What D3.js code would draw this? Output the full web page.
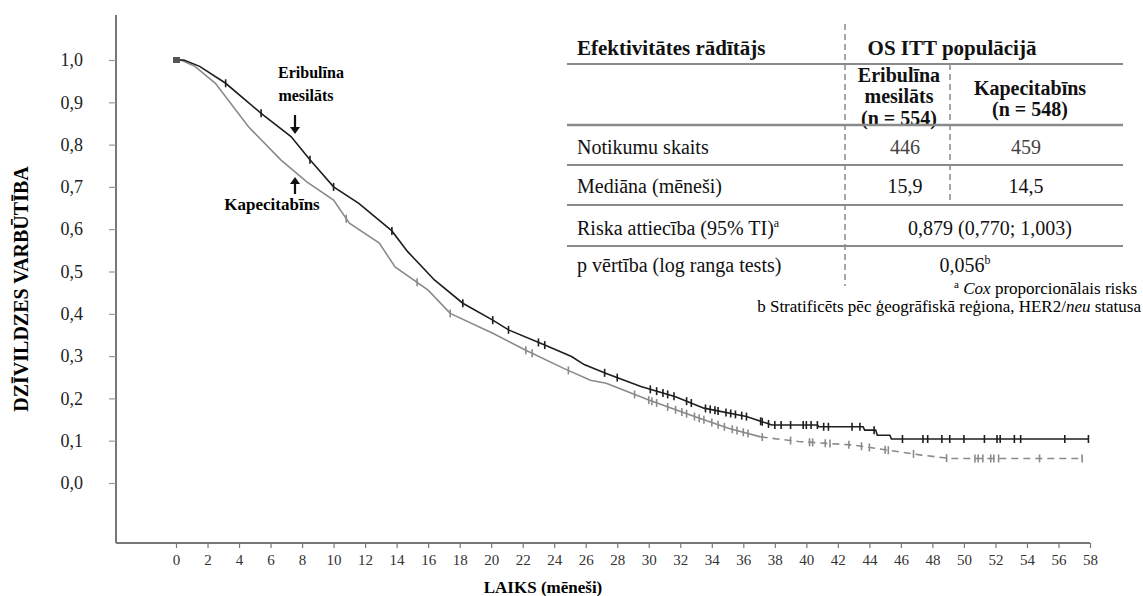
<!DOCTYPE html>
<html>
<head>
<meta charset="utf-8">
<script src="https://cdnjs.cloudflare.com/ajax/libs/d3/7.8.5/d3.min.js"></script>
<style>
body{margin:0;background:#fff;}
svg{display:block;}
svg text{font-family:"Liberation Serif","Times New Roman",Times,serif;}
</style>
</head>
<body>
<div id="chart"></div>
<script>
// tick values
var xTickValues = [0,2,4,6,8,10,12,14,16,18,20,22,24,26,28,30,32,34,36,38,40,42,44,46,48,50,52,54,56,58];
var yTickValues = [0,0.1,0.2,0.3,0.4,0.5,0.6,0.7,0.8,0.9,1.0];

// KM curves [month, survival]
var eribulinCurve = [[0,1.0],[0.5,1.0],[1.5,0.985],[3.15,0.945],[5.4,0.874],[7.3,0.819],[8.5,0.764],[10.0,0.70],[11.6,0.661],[13.7,0.596],[14.7,0.547],[16.4,0.48],[18.2,0.425],[20.1,0.385],[21.1,0.362],[23.4,0.326],[25.1,0.299],[25.9,0.28],[27.3,0.259],[29.5,0.228],[31.7,0.204],[33.5,0.177],[36.2,0.157],[37.5,0.141],[37.8,0.137],[40.7,0.137],[40.8,0.133],[43.6,0.133],[43.7,0.125],[44.4,0.125],[44.5,0.113],[45.3,0.113],[45.4,0.104],[57.9,0.104]];
var capecitabineCurve = [[0,1.0],[0.3,1.0],[1.2,0.985],[2.5,0.945],[4.6,0.842],[6.65,0.764],[8.3,0.712],[10.0,0.669],[11.0,0.614],[12.9,0.567],[13.9,0.511],[16.0,0.456],[17.4,0.401],[20.1,0.354],[22.2,0.314],[24.6,0.271],[26.3,0.243],[27.3,0.236],[30.0,0.196],[32.9,0.157],[35.1,0.129],[37.1,0.109],[39.5,0.098],[42.9,0.09],[45.1,0.078],[47.3,0.066],[49.1,0.058],[57.5,0.058]];
var dashStart = 37.1;

// censored observations (months)
var eribulinCensor = [3.15,5.4,8.5,10.0,13.7,18.2,20.1,21.1,23.0,23.4,27.2,28.0,30.1,30.5,30.9,31.2,31.6,32.4,32.7,33.6,33.9,34.2,34.4,34.9,35.2,35.5,35.9,36.2,37.1,37.2,37.6,38.0,38.4,39.0,39.8,40.0,40.3,40.7,41.1,41.4,42.9,43.4,44.3,46.1,47.4,47.7,48.6,49.1,50.0,51.3,52.1,52.3,53.2,53.6,56.4,57.9];
var capecitabineCensor = [10.8,15.3,17.4,22.2,22.6,24.9,29.1,30.0,30.2,30.5,31.2,31.7,32.1,32.4,32.9,33.2,33.5,34.0,34.4,34.8,35.3,35.6,36.0,36.3,37.2,39.0,40.2,40.4,41.2,41.5,42.7,43.5,44.0,45.0,45.2,46.8,48.9,50.7,50.9,51.2,51.7,51.9,52.2,54.8,57.5];

// table texts
var tableHeader = ["Efektivitātes rādītājs","OS ITT populācijā"];
var armNames = [["Eribulīna","mesilāts","(n = 554)"],["Kapecitabīns","(n = 548)"]];
var rowLabels = ["Notikumu skaits","Mediāna (mēneši)","Riska attiecība (95% TI)","p vērtība (log ranga tests)"];
var eventsCount = ["446","459"];
var medianMonths = ["15,9","14,5"];
var hazardRatio = "0,879 (0,770; 1,003)";
var pValue = "0,056";

var width = 1143, height = 596;
var svg = d3.select("#chart").append("svg")
  .attr("width",width)
  .attr("height",height);

var x = d3.scaleLinear().domain([0,58]).range([176,1090]);
var y = d3.scaleLinear().domain([0,1]).range([483,60]);
var axisColor = "#777";
var serif = "Liberation Serif, Times New Roman, Times, serif";

function valueAt(curve,t){
  for(var i=1;i<curve.length;i++){
    if(t<=curve[i][0]){
      var a = curve[i-1], b = curve[i];
      if(b[0]==a[0]) return b[1];
      return a[1]+(b[1]-a[1])*(t-a[0])/(b[0]-a[0]);
    }
  }
  return curve[curve.length-1][1];
}

// axes
svg.append("line").attr("x1",116).attr("x2",116).attr("y1",15).attr("y2",543)
  .attr("stroke",axisColor).attr("stroke-width",2);
svg.append("line").attr("x1",116).attr("x2",x(58)).attr("y1",543).attr("y2",543)
  .attr("stroke",axisColor).attr("stroke-width",2);

var yAxis = svg.append("g").attr("transform","translate(116,0)")
  .call(d3.axisLeft(y).tickValues(yTickValues).tickSize(7).tickPadding(26)
    .tickFormat(function(d){return d3.format(".1f")(d).replace(".",",");}));
yAxis.select(".domain").remove();
yAxis.attr("font-family",serif);
yAxis.selectAll("line").attr("stroke","#999").attr("stroke-width",1.2);
yAxis.selectAll("text").attr("font-size",18).attr("fill","#222");

var xAxis = svg.append("g").attr("transform","translate(0,543)")
  .call(d3.axisBottom(x).tickValues(xTickValues).tickSize(5).tickPadding(6));
xAxis.select(".domain").remove();
xAxis.attr("font-family",serif);
xAxis.selectAll("line").attr("stroke",axisColor).attr("stroke-width",1.2);
xAxis.selectAll("text").attr("font-size",15).attr("fill","#333");

svg.append("text")
  .attr("transform","translate(28,289) rotate(-90)")
  .attr("text-anchor","middle")
  .attr("font-weight","bold")
  .attr("font-size",20)
  .text("DZĪVILDZES VARBŪTĪBA");
svg.append("text")
  .attr("x",543).attr("y",593)
  .attr("text-anchor","middle")
  .attr("font-weight","bold")
  .attr("font-size",17)
  .text("LAIKS (mēneši)");

// curves
var line = d3.line().x(function(d){return x(d[0]);}).y(function(d){return y(d[1]);});
var capSolid = capecitabineCurve.filter(function(d){return d[0]<=dashStart;});
var capDashed = capecitabineCurve.filter(function(d){return d[0]>=dashStart;});

svg.append("path").datum(capSolid).attr("d",line)
  .attr("fill","none").attr("stroke","#8a8a8a").attr("stroke-width",1.6);
svg.append("path").datum(capDashed).attr("d",line)
  .attr("fill","none").attr("stroke","#8a8a8a").attr("stroke-width",1.6)
  .attr("stroke-dasharray","7,5");
svg.append("path").datum(eribulinCurve).attr("d",line)
  .attr("fill","none").attr("stroke","#1e1e1e").attr("stroke-width",1.6);

svg.append("g").selectAll("line").data(capecitabineCensor).enter().append("line")
  .attr("x1",function(d){return x(d);}).attr("x2",function(d){return x(d);})
  .attr("y1",function(d){return y(valueAt(capecitabineCurve,d))-4;})
  .attr("y2",function(d){return y(valueAt(capecitabineCurve,d))+4;})
  .attr("stroke","#8a8a8a").attr("stroke-width",1.6);
svg.append("g").selectAll("line").data(eribulinCensor).enter().append("line")
  .attr("x1",function(d){return x(d);}).attr("x2",function(d){return x(d);})
  .attr("y1",function(d){return y(valueAt(eribulinCurve,d))-4;})
  .attr("y2",function(d){return y(valueAt(eribulinCurve,d))+4;})
  .attr("stroke","#1e1e1e").attr("stroke-width",1.6);

// start marker
svg.append("rect").attr("x",x(0)-3).attr("y",y(1)-3).attr("width",7).attr("height",6)
  .attr("fill","#555");

// curve labels with arrows
svg.append("text").attr("x",311).attr("y",78).attr("text-anchor","middle")
  .attr("font-weight","bold").attr("font-size",16).text(armNames[0][0]);
svg.append("text").attr("x",306).attr("y",101).attr("text-anchor","middle")
  .attr("font-weight","bold").attr("font-size",16).text(armNames[0][1]);
svg.append("text").attr("x",272).attr("y",210).attr("text-anchor","middle")
  .attr("font-weight","bold").attr("font-size",17).text(armNames[1][0]);

function arrow(ax,y1,y2){
  var dir = y2>y1 ? 1 : -1;
  svg.append("line").attr("x1",ax).attr("x2",ax).attr("y1",y1).attr("y2",y2-dir*5)
    .attr("stroke","#111").attr("stroke-width",2.2);
  svg.append("path")
    .attr("d","M"+(ax-5)+","+(y2-dir*7)+" L"+(ax+5)+","+(y2-dir*7)+" L"+ax+","+y2+" Z")
    .attr("fill","#111");
}
arrow(295,115,134);
arrow(295,194,177);

// table
var t = svg.append("g").attr("font-size",20).attr("fill","#111");
var colLeft = 577, split1 = 845, split2 = 950, tableRight = 1123;
var c1 = 899, c2 = 1030, cHead = 952;

t.append("text").attr("x",colLeft).attr("y",55).attr("font-weight","bold").attr("font-size",21).text(tableHeader[0]);
t.append("text").attr("x",cHead).attr("y",55).attr("text-anchor","middle").attr("font-weight","bold").attr("font-size",21).text(tableHeader[1]);

[[armNames[0][0],82],[armNames[0][1],103],[armNames[0][2],125]].forEach(function(r){
  t.append("text").attr("x",c1).attr("y",r[1]).attr("text-anchor","middle").attr("font-weight","bold").text(r[0]);
});
[[armNames[1][0],95],[armNames[1][1],116]].forEach(function(r){
  t.append("text").attr("x",c2).attr("y",r[1]).attr("text-anchor","middle").attr("font-weight","bold").text(r[0]);
});

var rowY = [154,193,235,272];
rowLabels.forEach(function(lbl,i){
  var tx = t.append("text").attr("x",colLeft).attr("y",rowY[i]).text(lbl);
  if(i==2){
    tx.append("tspan").attr("font-size",12).attr("dy",-8).text("a");
  }
});
t.append("text").attr("x",905).attr("y",rowY[0]).attr("text-anchor","middle").attr("fill","#444").text(eventsCount[0]);
t.append("text").attr("x",1026).attr("y",rowY[0]).attr("text-anchor","middle").attr("fill","#444").text(eventsCount[1]);
t.append("text").attr("x",905).attr("y",rowY[1]).attr("text-anchor","middle").text(medianMonths[0]);
t.append("text").attr("x",1026).attr("y",rowY[1]).attr("text-anchor","middle").text(medianMonths[1]);
t.append("text").attr("x",990).attr("y",rowY[2]).attr("text-anchor","middle").text(hazardRatio);
var pv = t.append("text").attr("x",965).attr("y",rowY[3]).attr("text-anchor","middle").text(pValue);
pv.append("tspan").attr("font-size",12).attr("dy",-8).text("b");

var hLines = [[64,2],[125,2.5],[165,1.8],[205,1.8],[246,1.8]];
hLines.forEach(function(h){
  t.append("line").attr("x1",colLeft-10).attr("x2",tableRight).attr("y1",h[0]).attr("y2",h[0])
    .attr("stroke","#8a8a8a").attr("stroke-width",h[1]);
});
t.append("line").attr("x1",split1).attr("x2",split1).attr("y1",24).attr("y2",286)
  .attr("stroke","#8a8a8a").attr("stroke-width",1.5).attr("stroke-dasharray","6,4");
t.append("line").attr("x1",split2).attr("x2",split2).attr("y1",64).attr("y2",205)
  .attr("stroke","#8a8a8a").attr("stroke-width",1.5).attr("stroke-dasharray","6,4");

// footnotes
var fa = svg.append("text").attr("x",1137).attr("y",294).attr("text-anchor","end").attr("font-size",17);
fa.append("tspan").attr("font-size",11).attr("dy",-6).text("a");
fa.append("tspan").attr("dy",6).text(" ");
fa.append("tspan").attr("font-style","italic").text("Cox");
fa.append("tspan").text(" proporcionālais risks");
var fb = svg.append("text").attr("x",1141).attr("y",312).attr("text-anchor","end").attr("font-size",17);
fb.append("tspan").text("b Stratificēts pēc ģeogrāfiskā reģiona, HER2/");
fb.append("tspan").attr("font-style","italic").text("neu");
fb.append("tspan").text(" statusa");
</script>
</body>
</html>
